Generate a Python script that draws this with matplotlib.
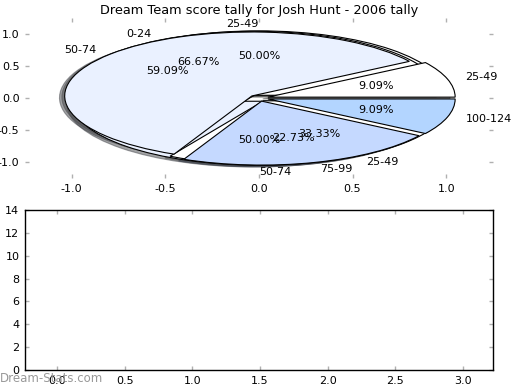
import matplotlib
matplotlib.use('Agg')
import matplotlib.pyplot as plt
from matplotlib.ticker import FormatStrFormatter

# Score bins per pie (three tallies drawn on the same axes)
labels_a = ['25-49', '50-74']
values_a = [1, 1]

labels_b = ['0-24', '25-49']
values_b = [2, 1]

labels_c = ['25-49', '50-74', '75-99', '100-124']
values_c = [2, 13, 5, 2]

bin_colors = {
    '0-24': '#ffffff',
    '25-49': '#ffffff',
    '50-74': '#eaf1ff',
    '75-99': '#c5d9ff',
    '100-124': '#b3d5ff',
}

title = 'Dream Team score tally for Josh Hunt - 2006 tally'

fig = plt.figure(figsize=(5.2, 3.9), dpi=100)

# Top: overlaid pies (no equal aspect, so they come out as ellipses)
ax1 = fig.add_axes([0.048, 0.5436, 0.9, 0.41])
for labels, values in [(labels_a, values_a), (labels_b, values_b), (labels_c, values_c)]:
    ax1.pie(values, labels=labels, colors=[bin_colors[l] for l in labels],
            explode=[0.05] * len(values), autopct='%1.2f%%', shadow=True,
            startangle=0, labeldistance=1.1, pctdistance=0.6,
            wedgeprops={'edgecolor': 'black', 'linewidth': 0.8},
            textprops={'fontsize': 8})
ax1.set_aspect('auto')
ax1.set_xlim(-1.25, 1.25)
ax1.set_ylim(-1.25, 1.25)
ax1.set_xticks([-1.0, -0.5, 0.0, 0.5, 1.0])
ax1.set_yticks([-1.0, -0.5, 0.0, 0.5, 1.0])
ax1.xaxis.set_major_formatter(FormatStrFormatter('%.1f'))
ax1.yaxis.set_major_formatter(FormatStrFormatter('%.1f'))
ax1.set_title(title, fontsize=9.3, pad=3)

# Bottom: empty axes
ax2 = fig.add_axes([0.048, 0.0513, 0.9, 0.41])
ax2.set_xlim(-0.236, 3.22)
ax2.set_ylim(0, 14)
ax2.set_xticks([0.0, 0.5, 1.0, 1.5, 2.0, 2.5, 3.0])
ax2.set_yticks(range(0, 15, 2))
ax2.xaxis.set_major_formatter(FormatStrFormatter('%.1f'))
for sp in ax2.spines.values():
    sp.set_linewidth(1.0)

for ax in (ax1, ax2):
    ax.tick_params(direction='in', top=True, right=True, length=3,
                   width=1, color='#b0b0b0', labelsize=8, pad=4)

fig.text(0.0, 0.012, 'Dream-Stats.com', color='#999999', fontsize=8.5,
         ha='left', va='bottom')

fig.savefig('out.png', dpi=100)
